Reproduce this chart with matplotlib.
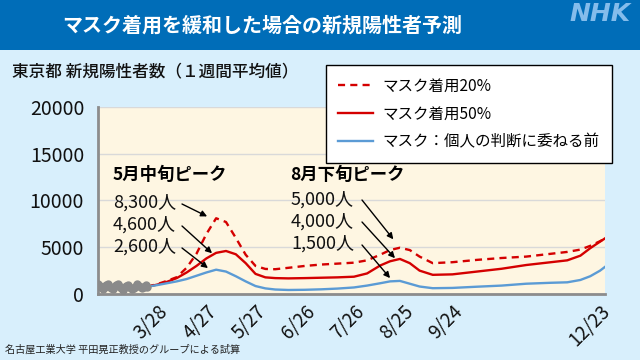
import matplotlib
matplotlib.use("Agg")
import matplotlib.pyplot as plt
from matplotlib.patches import Rectangle

plt.rcParams['font.family'] = ['Noto Sans CJK JP', 'DejaVu Sans']

# ---- data ----
obs_days = list(range(-36, -5))
obs_vals = [1050, 900, 700, 550, 750, 1000, 1100, 900, 650, 500, 700, 950, 1050, 850, 600,
            480, 650, 900, 1000, 800, 600, 500, 650, 900, 1050, 900, 700, 600, 800, 950, 800]

days = [-6, 0, 6, 12, 18, 24, 30, 36, 42, 48, 54, 60, 66, 72, 80, 90, 100, 110, 120, 128,
        136, 142, 148, 154, 160, 168, 180, 195, 210, 225, 240, 250, 258, 264, 270, 273]
mask20 = [780, 1050, 1400, 1800, 2800, 4300, 6400, 8100, 7700, 6000, 4200, 3000, 2680, 2650,
          2800, 3000, 3150, 3250, 3350, 3600, 4200, 4700, 4950, 4700, 4000, 3300, 3400, 3650,
          3850, 4000, 4300, 4500, 4750, 5150, 5650, 5950]
mask50 = [780, 1000, 1300, 1700, 2300, 3000, 3800, 4400, 4600, 4250, 3300, 2150, 1780, 1700,
          1670, 1700, 1740, 1780, 1850, 2200, 3050, 3500, 3750, 3300, 2500, 2050, 2100, 2400,
          2700, 3100, 3400, 3600, 4100, 4900, 5600, 5950]
before = [780, 950, 1150, 1350, 1600, 1950, 2300, 2600, 2400, 1900, 1350, 850, 600, 480,
          430, 450, 500, 580, 700, 900, 1150, 1350, 1400, 1100, 800, 620, 650, 780, 900,
          1100, 1200, 1250, 1500, 1900, 2500, 2900]

tick_days = [0, 30, 60, 90, 120, 150, 180, 270]
tick_labels = ['3/28', '4/27', '5/27', '6/26', '7/26', '8/25', '9/24', '12/23']
yticks = [0, 5000, 10000, 15000, 20000]

series_labels = ['マスク着用20%', 'マスク着用50%', 'マスク：個人の判断に委ねる前']

W, H = 640, 360
def fp(x, y):
    return (x / W, 1 - y / H)

BG = '#D8EFFC'
fig = plt.figure(figsize=(6.4, 3.6), dpi=100, facecolor=BG)

# banner
fig.patches.append(Rectangle((0, 1 - 50 / H), 1, 50 / H, transform=fig.transFigure,
                             facecolor='#006DB8', edgecolor='none', zorder=0))
fig.text(*fp(262, 25), 'マスク着用を緩和した場合の新規陽性者予測', color='white',
         fontsize=14.4, fontweight='bold', ha='center', va='center')
fig.text(*fp(631, 14), 'NHK', color='#84BCEB', fontsize=18, fontweight='bold',
         fontstyle='italic', family='DejaVu Sans', ha='right', va='center')

ax = fig.add_axes([98 / W, 1 - 294 / H, (605 - 98) / W, (294 - 107) / H])
ax.set_facecolor('#FEF6E2')
ax.set_xlim(-36, 273)
ax.set_ylim(0, 20000)
ax.set_yticks(yticks)
ax.set_yticklabels([str(v) for v in yticks], fontsize=14, color='#111111')
ax.set_xticks(tick_days)
ax.set_xticklabels(tick_labels, fontsize=13.5, rotation=45, ha='right', va='top',
                   rotation_mode='anchor', color='#111111')
ax.tick_params(length=0, pad=10)
ax.tick_params(axis='x', pad=5)
ax.grid(axis='y', color='#D9D9D9', lw=1)
ax.set_axisbelow(True)
for s in ['top', 'right']:
    ax.spines[s].set_visible(False)
for s in ['left', 'bottom']:
    ax.spines[s].set_color('#8C8C8C')
    ax.spines[s].set_linewidth(2)

l1, = ax.plot(days, mask20, color='#D40000', lw=1.7, ls=(0, (3.0, 2.2)), label=series_labels[0])
l2, = ax.plot(days, mask50, color='#D40000', lw=1.7, label=series_labels[1])
l3, = ax.plot(days, before, color='#5B9BD5', lw=1.7, label=series_labels[2])
ax.plot(obs_days, obs_vals, color='#8A8A8A', lw=3.5, marker='o', ms=5, zorder=5)

fig.text(*fp(12, 71), '東京都 新規陽性者数（１週間平均値）', fontsize=12, fontweight='medium',
         ha='left', va='center', color='#111111')

x0, y0 = fp(326, 149)
leg = fig.legend(handles=[l1, l2, l3], loc='upper left',
                 bbox_to_anchor=(x0, y0, 286 / W, 84 / H), mode='expand',
                 fontsize=11.2, frameon=True, fancybox=False, edgecolor='black',
                 handlelength=2.25, labelspacing=0.7, borderpad=0.8, handletextpad=0.6,
                 borderaxespad=0)
leg.get_frame().set_linewidth(1)
leg.get_frame().set_facecolor('white')
leg.get_frame().set_alpha(1)

# annotations
fig.text(*fp(113, 175), '5月中旬ピーク', fontsize=12.5, fontweight='bold', ha='left', va='center')
fig.text(*fp(290, 175), '8月下旬ピーク', fontsize=12.5, fontweight='bold', ha='left', va='center')

ann = [
    ('8,300人', (113, 203), (182, 204), (30.5, 8300)),
    ('4,600人', (113, 225), (182, 226), (33.5, 4360)),
    ('2,600人', (113, 247), (182, 248), (31, 2770)),
    ('5,000人', (291, 200), (362, 200), (144, 5850)),
    ('4,000人', (291, 222), (362, 222), (145, 3830)),
    ('1,500人', (291, 244), (362, 245), (142, 1700)),
]
for txt, tpos, tail, head in ann:
    fig.text(*fp(*tpos), txt, fontsize=13, ha='left', va='center', color='#111111')
    ax.annotate('', xy=head, xycoords='data', xytext=fp(*tail), textcoords='figure fraction',
                arrowprops=dict(arrowstyle='-|>', color='black', lw=1, mutation_scale=9,
                                shrinkA=0, shrinkB=0))

fig.text(*fp(5, 350), '名古屋工業大学 平田晃正教授のグループによる試算', fontsize=7.3, ha='left',
         va='center', color='#222222')

fig.savefig('out.png', dpi=100, facecolor=BG)
